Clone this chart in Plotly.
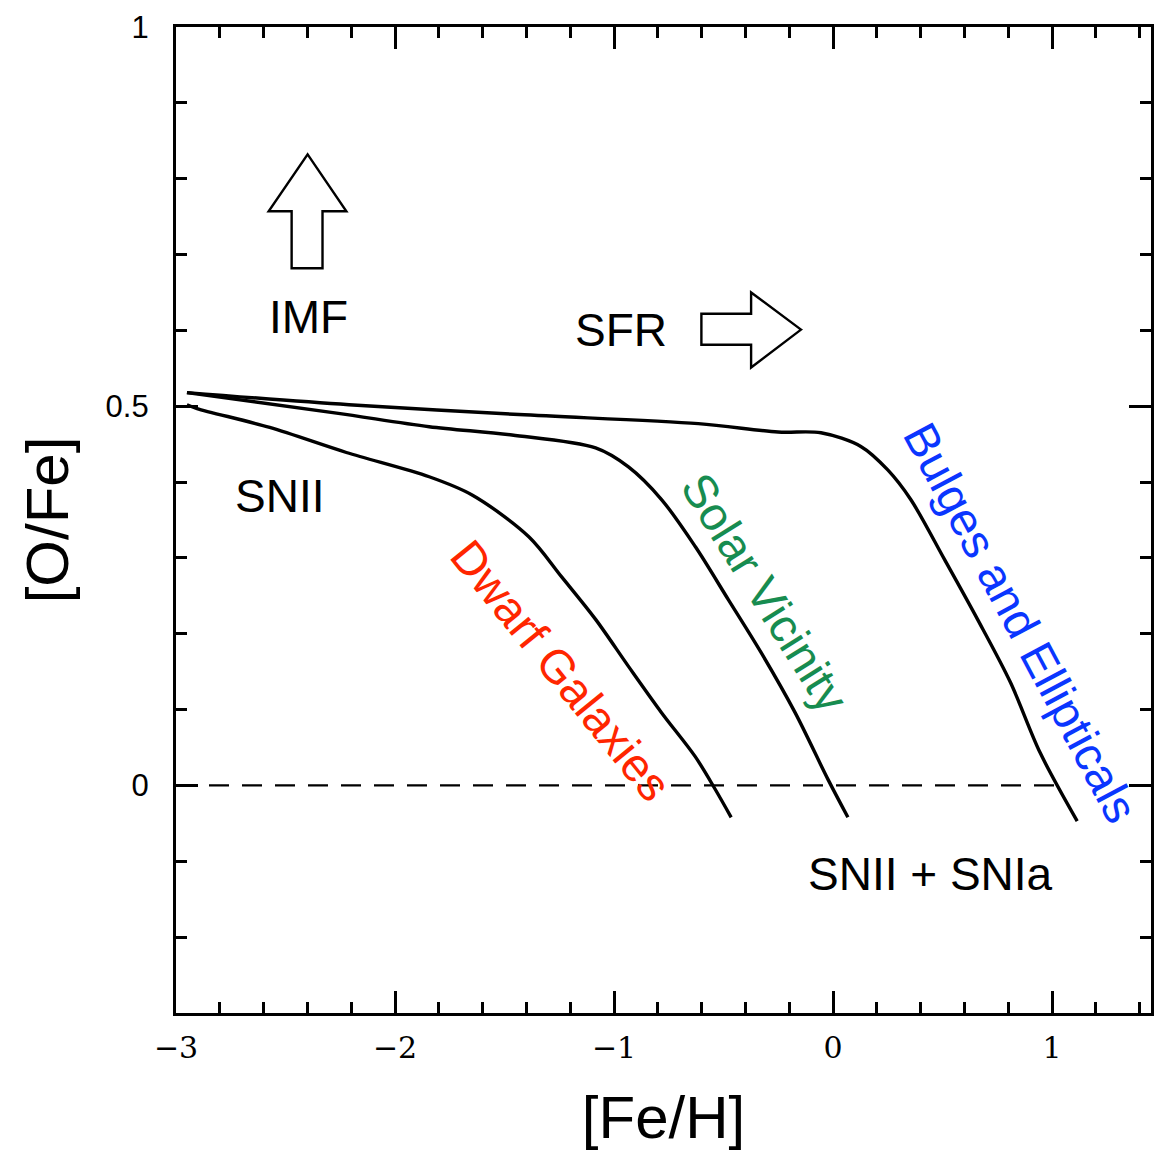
import plotly.graph_objects as go

# ---- data ----
bulges_feh = [-2.95, -2.21, -1.434, -0.615, -0.251, -0.055, 0.127, 0.250, 0.355, 0.509, 0.660, 0.810, 0.946, 1.115]
bulges_ofe = [0.518, 0.502, 0.489, 0.477, 0.466, 0.465, 0.447, 0.416, 0.377, 0.298, 0.219, 0.136, 0.043, -0.047]

solar_feh = [-2.95, -2.267, -1.844, -1.466, -1.084, -0.934, -0.783, -0.629, -0.478, -0.328, -0.173, -0.023, 0.068]
solar_ofe = [0.518, 0.491, 0.473, 0.462, 0.445, 0.420, 0.377, 0.315, 0.245, 0.175, 0.096, 0.008, -0.042]

dwarf_feh = [-2.95, -2.904, -2.572, -2.222, -1.844, -1.648, -1.389, -1.239, -1.084, -0.934, -0.783, -0.629, -0.538, -0.465]
dwarf_ofe = [0.502, 0.497, 0.472, 0.439, 0.407, 0.383, 0.328, 0.275, 0.219, 0.157, 0.096, 0.038, -0.005, -0.042]

ref_line_x = [-3.0, 1.06]
ref_line_y = [0.0, 0.0]

labels = ["IMF", "SFR", "SNII", "SNII + SNIa"]
label_x = [-2.395, -0.970, -2.527, 0.446]
label_y = [0.618, 0.600, 0.382, -0.117]

track_names = ["Dwarf Galaxies", "Solar Vicinity", "Bulges and Ellipticals"]
track_x = [-1.240, -0.310, 0.858]
track_y = [0.152, 0.255, 0.215]
track_angle = [51, 58, 62]
track_color = ["#FF2600", "#178C50", "#0A36FF"]

SANS = "Liberation Sans, Arial, Helvetica, sans-serif"

fig = go.Figure()

for fx, fy in [(bulges_feh, bulges_ofe), (solar_feh, solar_ofe), (dwarf_feh, dwarf_ofe)]:
    fig.add_trace(go.Scatter(x=fx, y=fy, mode="lines",
                             line=dict(color="black", width=3.4, shape="spline", smoothing=0.9),
                             showlegend=False, hoverinfo="skip"))

fig.add_trace(go.Scatter(x=ref_line_x, y=ref_line_y, mode="lines",
                         line=dict(color="black", width=2.2, dash="20px,13px"),
                         showlegend=False, hoverinfo="skip"))

annotations = []
for t, x, y in zip(labels, label_x, label_y):
    annotations.append(dict(x=x, y=y, xref="x", yref="y", text=t, showarrow=False,
                            font=dict(family=SANS, size=46, color="black"),
                            xanchor="center", yanchor="middle"))
for t, x, y, a, c in zip(track_names, track_x, track_y, track_angle, track_color):
    annotations.append(dict(x=x, y=y, xref="x", yref="y", text=t, showarrow=False,
                            textangle=a, font=dict(family=SANS, size=47, color=c),
                            xanchor="center", yanchor="middle"))

# outline arrows (IMF up, SFR right)
up_arrow = "M -2.399 0.832 L -2.222 0.757 L -2.331 0.757 L -2.331 0.682 L -2.472 0.682 L -2.472 0.757 L -2.577 0.757 Z"
right_arrow = "M -0.146 0.601 L -0.374 0.650 L -0.374 0.622 L -0.601 0.622 L -0.601 0.581 L -0.374 0.581 L -0.374 0.551 Z"
shapes = [
    dict(type="path", path=up_arrow, xref="x", yref="y", line=dict(color="black", width=2.4), fillcolor="white"),
    dict(type="path", path=right_arrow, xref="x", yref="y", line=dict(color="black", width=2.4), fillcolor="white"),
]

fig.update_layout(
    width=1154, height=1152,
    margin=dict(l=176, r=0, t=27, b=139),
    paper_bgcolor="white", plot_bgcolor="white",
    annotations=annotations, shapes=shapes,
    showlegend=False,
)

fig.update_xaxes(
    range=[-3, 1.452], showgrid=False, zeroline=False,
    showline=True, linewidth=3.2, linecolor="black", mirror="ticks",
    ticks="inside", ticklen=22, tickwidth=2.5, tickcolor="black",
    tick0=0, dtick=1,
    minor=dict(dtick=0.2, ticks="inside", ticklen=11, tickwidth=2.5, tickcolor="black"),
    tickfont=dict(family="DejaVu Serif, serif", size=30, color="black"),
    ticklabelstandoff=6,
    title=dict(text="[Fe/H]", font=dict(family=SANS, size=60, color="black"), standoff=32),
)
fig.update_yaxes(
    range=[-0.3, 1], showgrid=False, zeroline=False,
    showline=True, linewidth=3.2, linecolor="black", mirror="ticks",
    ticks="inside", ticklen=22, tickwidth=2.5, tickcolor="black",
    tick0=0, dtick=0.5,
    minor=dict(dtick=0.1, ticks="inside", ticklen=11, tickwidth=2.5, tickcolor="black"),
    tickfont=dict(family=SANS, size=31, color="black"),
    ticklabelstandoff=18,
    title=dict(text="[O/Fe]", font=dict(family=SANS, size=60, color="black"), standoff=18),
)

fig.write_html("out.html")
